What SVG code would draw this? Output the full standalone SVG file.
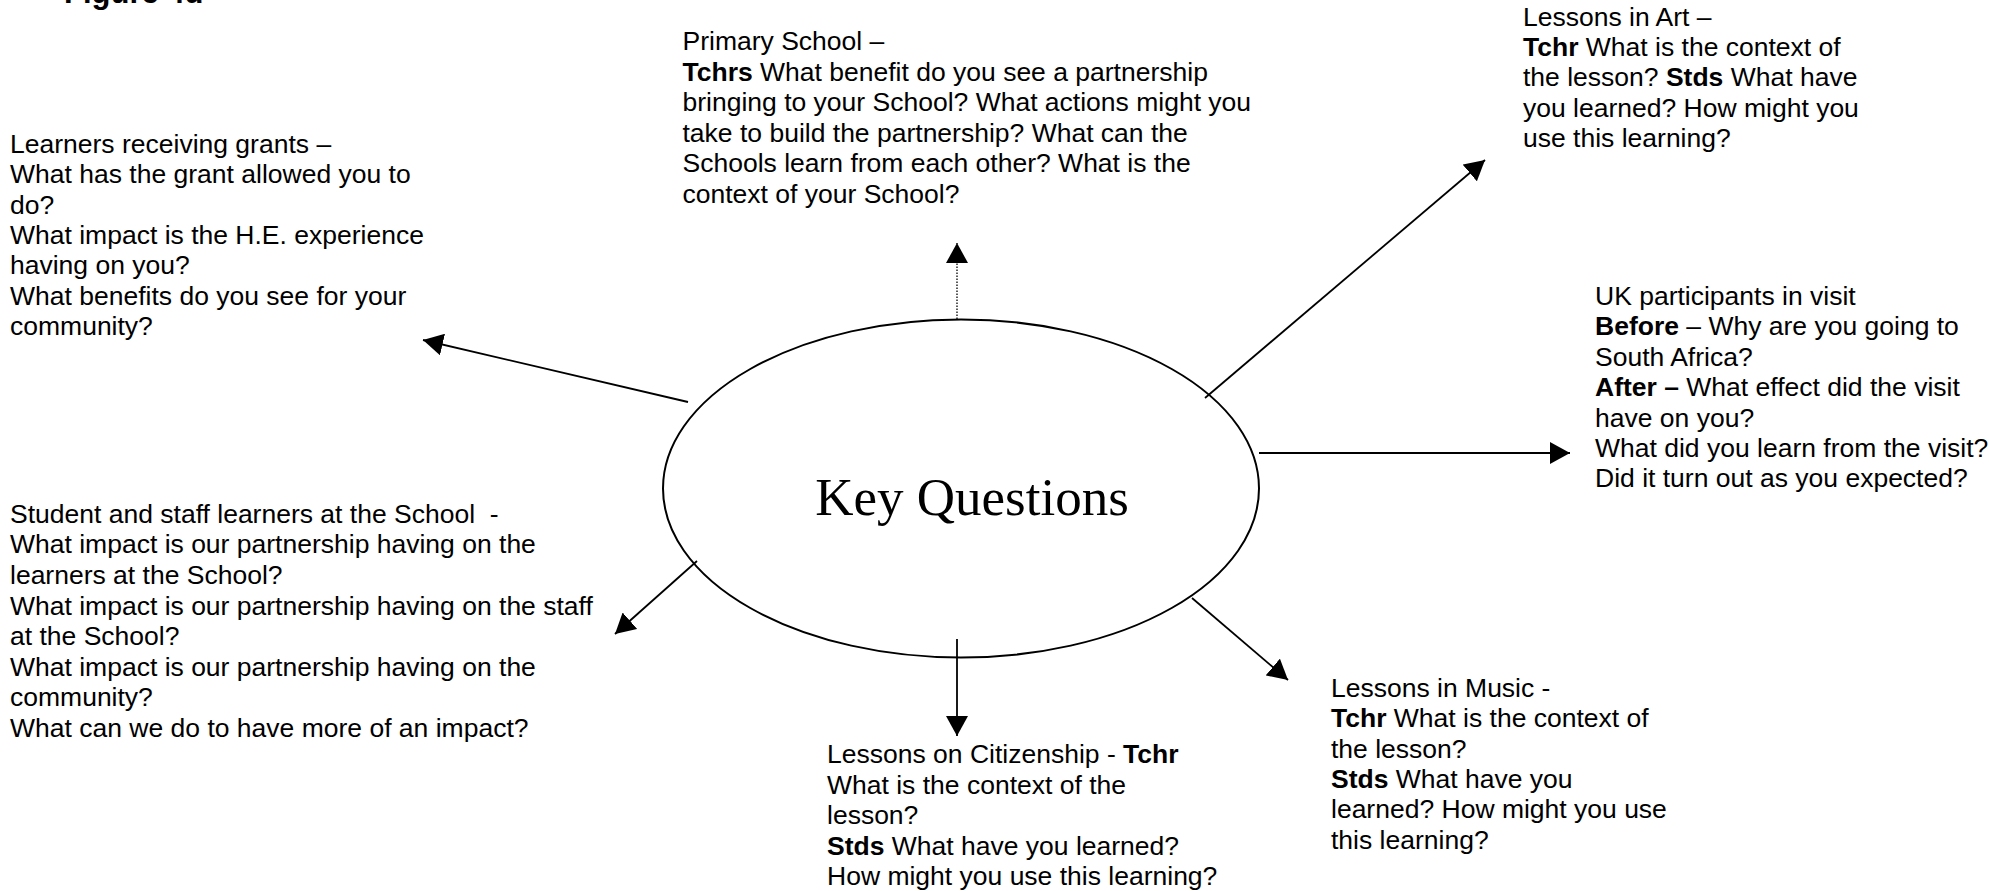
<svg xmlns="http://www.w3.org/2000/svg" width="1989" height="891" viewBox="0 0 1989 891">
<style>
.t{font-family:"Liberation Sans",Arial,sans-serif;font-size:26.5px;fill:#000}
.b{font-weight:bold}
.fig{font-family:"Liberation Sans",Arial,sans-serif;font-size:31px;font-weight:bold;fill:#000}
.kq{font-family:"Liberation Serif","Times New Roman",serif;font-size:53px;fill:#000}
.c{stroke:#000;stroke-width:1.8;fill:none;marker-end:url(#ah)}
.dot{stroke-width:1.3;stroke-dasharray:1.5 1.5}
</style>
<defs>
<marker id="ah" markerUnits="userSpaceOnUse" markerWidth="20" markerHeight="22" refX="20" refY="11" orient="auto" viewBox="0 0 20 22">
<path d="M0,0 L20,11 L0,22 Z" fill="#000"/>
</marker>
</defs>
<rect width="1989" height="891" fill="#fff"/>
<text class="fig" x="64" y="3">Figure 4d</text>
<g id="connectors">
<line class="c dot" x1="957" y1="319" x2="957" y2="243"/>
<line class="c" x1="1205" y1="398" x2="1485" y2="160"/>
<line class="c" x1="1259" y1="453" x2="1570" y2="453"/>
<line class="c" x1="1192" y1="598" x2="1288" y2="680"/>
<line class="c" x1="957" y1="639" x2="957" y2="736"/>
<line class="c" x1="697" y1="561" x2="615" y2="634"/>
<line class="c" x1="688" y1="402" x2="423" y2="340"/>
</g>
<g id="center">
<ellipse cx="961" cy="488.5" rx="298" ry="169" fill="none" stroke="#000" stroke-width="2"/>
<text class="kq" x="972" y="515" text-anchor="middle">Key Questions</text>
</g>
<g id="primary">
<text class="t" x="682.5" y="50">Primary School –</text>
<text class="t" x="682.5" y="80.5"><tspan class="b">Tchrs</tspan> What benefit do you see a partnership</text>
<text class="t" x="682.5" y="111">bringing to your School? What actions might you</text>
<text class="t" x="682.5" y="141.5">take to build the partnership? What can the</text>
<text class="t" x="682.5" y="172">Schools learn from each other? What is the</text>
<text class="t" x="682.5" y="202.5">context of your School?</text>
</g>
<g id="art">
<text class="t" x="1523" y="25.5">Lessons in Art –</text>
<text class="t" x="1523" y="55.9"><tspan class="b">Tchr</tspan> What is the context of</text>
<text class="t" x="1523" y="86.3">the lesson? <tspan class="b">Stds</tspan> What have</text>
<text class="t" x="1523" y="116.7">you learned? How might you</text>
<text class="t" x="1523" y="147.1">use this learning?</text>
</g>
<g id="uk">
<text class="t" x="1595" y="305">UK participants in visit</text>
<text class="t" x="1595" y="335.4"><tspan class="b">Before</tspan> – Why are you going to</text>
<text class="t" x="1595" y="365.8">South Africa?</text>
<text class="t" x="1595" y="396.2"><tspan class="b">After –</tspan> What effect did the visit</text>
<text class="t" x="1595" y="426.6">have on you?</text>
<text class="t" x="1595" y="457">What did you learn from the visit?</text>
<text class="t" x="1595" y="487.4">Did it turn out as you expected?</text>
</g>
<g id="music">
<text class="t" x="1331" y="696.7">Lessons in Music -</text>
<text class="t" x="1331" y="727.1"><tspan class="b">Tchr</tspan> What is the context of</text>
<text class="t" x="1331" y="757.5">the lesson?</text>
<text class="t" x="1331" y="787.9"><tspan class="b">Stds</tspan> What have you</text>
<text class="t" x="1331" y="818.3">learned? How might you use</text>
<text class="t" x="1331" y="848.7">this learning?</text>
</g>
<g id="citizenship">
<text class="t" x="827" y="763">Lessons on Citizenship - <tspan class="b">Tchr</tspan></text>
<text class="t" x="827" y="793.5">What is the context of the</text>
<text class="t" x="827" y="824">lesson?</text>
<text class="t" x="827" y="854.5"><tspan class="b">Stds</tspan> What have you learned?</text>
<text class="t" x="827" y="885">How might you use this learning?</text>
</g>
<g id="grants">
<text class="t" x="10" y="152.7">Learners receiving grants –</text>
<text class="t" x="10" y="183.1">What has the grant allowed you to</text>
<text class="t" x="10" y="213.5">do?</text>
<text class="t" x="10" y="243.9">What impact is the H.E. experience</text>
<text class="t" x="10" y="274.3">having on you?</text>
<text class="t" x="10" y="304.7">What benefits do you see for your</text>
<text class="t" x="10" y="335.1">community?</text>
</g>
<g id="students">
<text class="t" x="10" y="522.7" xml:space="preserve">Student and staff learners at the School  -</text>
<text class="t" x="10" y="553.3">What impact is our partnership having on the</text>
<text class="t" x="10" y="583.9">learners at the School?</text>
<text class="t" x="10" y="614.5">What impact is our partnership having on the staff</text>
<text class="t" x="10" y="645.1">at the School?</text>
<text class="t" x="10" y="675.7">What impact is our partnership having on the</text>
<text class="t" x="10" y="706.3">community?</text>
<text class="t" x="10" y="736.9">What can we do to have more of an impact?</text>
</g>
</svg>
